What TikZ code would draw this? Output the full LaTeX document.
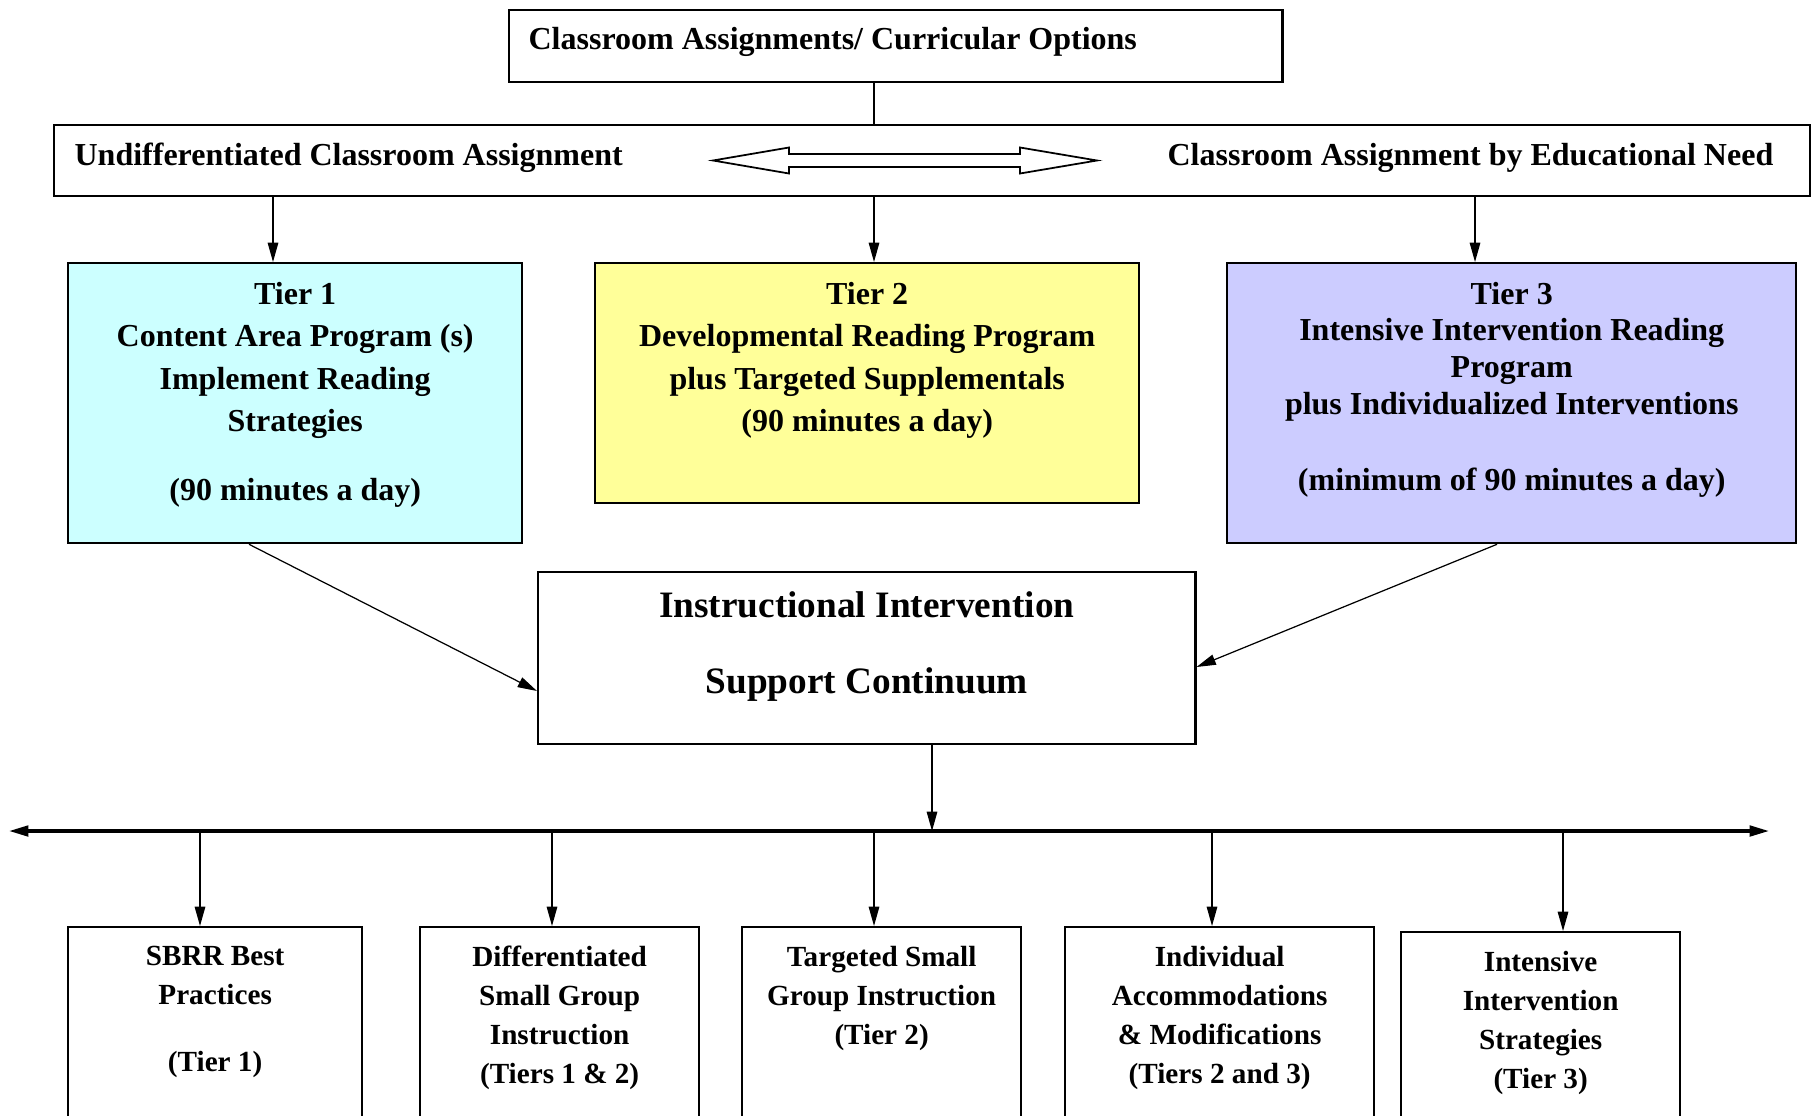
\documentclass[tikz,border=0pt]{standalone}
\usepackage{fontspec}
\setmainfont{Liberation Serif}
\usetikzlibrary{positioning,arrows.meta}
\definecolor{tierone}{HTML}{CCFFFF}
\definecolor{tiertwo}{HTML}{FFFF99}
\definecolor{tierthree}{HTML}{CCCCFF}

\begin{document}
\begin{tikzpicture}[x=0.01cm,y=-0.01cm,->,>={Stealth[length=5.5pt,width=3pt,inset=0pt]},line width=0.35pt,
  plain box/.style={draw,line width=0.6pt,rectangle,anchor=north west,inner sep=0pt},
  main text/.style={font=\bfseries\fontsize{9.1}{12.1}\selectfont,align=center,inner sep=0pt},
  big text/.style={font=\bfseries\fontsize{10.6}{21.6}\selectfont,align=center,inner sep=0pt},
  small text/.style={font=\bfseries\fontsize{8.3}{11.1}\selectfont,align=center,inner sep=0pt}]
  \useasboundingbox (0,0) rectangle (1813,1115);
  \clip (0,0) rectangle (1813,1115);

  % top part
  \node[plain box,minimum width=7.73cm,minimum height=0.72cm] (top) at (508,9) {};
  \node[main text,anchor=west] (topt) at (528,42) {Classroom Assignments/ Curricular Options};
  \node[plain box,minimum width=17.55cm,minimum height=0.71cm] (assign) at (53,124) {};
  \node[main text,anchor=west] (undiff) at (74,158) {Undifferentiated Classroom Assignment};
  \node[main text,anchor=west] (byneed) at (1167,158) {Classroom Assignment by Educational Need};
  \draw[-,line width=0.5pt] (713,160.5) -- (789,147.5) -- (789,154) -- (1020,154) -- (1020,147.5)
    -- (1097,160.5) -- (1020,173.5) -- (1020,167) -- (789,167) -- (789,173.5) -- cycle;

  % tiers
  \node[plain box,fill=tierone,minimum width=4.54cm,minimum height=2.80cm] (t1) at (67,262) {};
  \node[plain box,fill=tiertwo,minimum width=5.44cm,minimum height=2.40cm] (t2) at (594,262) {};
  \node[plain box,fill=tierthree,minimum width=5.69cm,minimum height=2.80cm] (t3) at (1226,262) {};
  \node[main text,below=0.195cm of t1.north] (t1t) {Tier 1\\Content Area Program (s)\\Implement Reading\\Strategies\\[7.5pt](90 minutes a day)};
  \node[main text,below=0.195cm of t2.north] (t2t) {Tier 2\\Developmental Reading Program\\plus Targeted Supplementals\\(90 minutes a day)};
  \node[main text,font=\bfseries\fontsize{9.1}{10.4}\selectfont,below=0.195cm of t3.north] (t3t) {Tier 3\\Intensive Intervention Reading\\Program\\plus Individualized Interventions\\[11.2pt](minimum of 90 minutes a day)};

  % continuum
  \node[plain box,minimum width=6.57cm,minimum height=1.72cm] (cont) at (537,571) {};
  \node[big text,below=0.2cm of cont.north] (contt) {Instructional Intervention\\Support Continuum};

  % bottom row
  \node[plain box,minimum width=2.94cm,minimum height=2.2cm] (b1) at (67,926) {};
  \node[plain box,minimum width=2.79cm,minimum height=2.2cm] (b2) at (419,926) {};
  \node[plain box,minimum width=2.79cm,minimum height=2.2cm] (b3) at (741,926) {};
  \node[plain box,minimum width=3.09cm,minimum height=2.2cm] (b4) at (1064,926) {};
  \node[plain box,minimum width=2.79cm,minimum height=2.2cm] (b5) at (1400,931) {};
  \node[small text,below=0.196cm of b1.north] (b1t) {SBRR Best\\Practices\\[8pt](Tier 1)};
  \node[small text,below=0.196cm of b2.north] (b2t) {Differentiated\\Small Group\\Instruction\\(Tiers 1 \& 2)};
  \node[small text,below=0.196cm of b3.north] (b3t) {Targeted Small\\Group Instruction\\(Tier 2)};
  \node[small text,below=0.196cm of b4.north] (b4t) {Individual\\Accommodations\\\& Modifications\\(Tiers 2 and 3)};
  \node[small text,below=0.196cm of b5.north] (b5t) {Intensive\\Intervention\\Strategies\\(Tier 3)};

  \coordinate (barl) at (9,831);
  \coordinate (barr) at (1769,831);
  \draw[<->,line width=0.9pt] (barl) -- (barr);

  \draw[-] (top.south -| 874,0) -- (assign.north -| 874,0);
  \path (assign.south -| 273,0) edge (t1.north -| 273,0)
        (assign.south -| 874,0) edge (t2.north -| 874,0)
        (assign.south -| 1475,0) edge (t3.north -| 1475,0)
        (t1.south -| 249,0) edge (cont.west |- 0,691)
        (t3.south -| 1497,0) edge (cont.east |- 0,667)
        (cont.south -| 932,0) edge (barl -| 932,0)
        (barl -| 200,0) edge (b1.north -| 200,0)
        (barl -| 552,0) edge (b2.north -| 552,0)
        (barl -| 874,0) edge (b3.north -| 874,0)
        (barl -| 1212,0) edge (b4.north -| 1212,0)
        (barl -| 1563,0) edge (b5.north -| 1563,0);
\end{tikzpicture}
\end{document}
